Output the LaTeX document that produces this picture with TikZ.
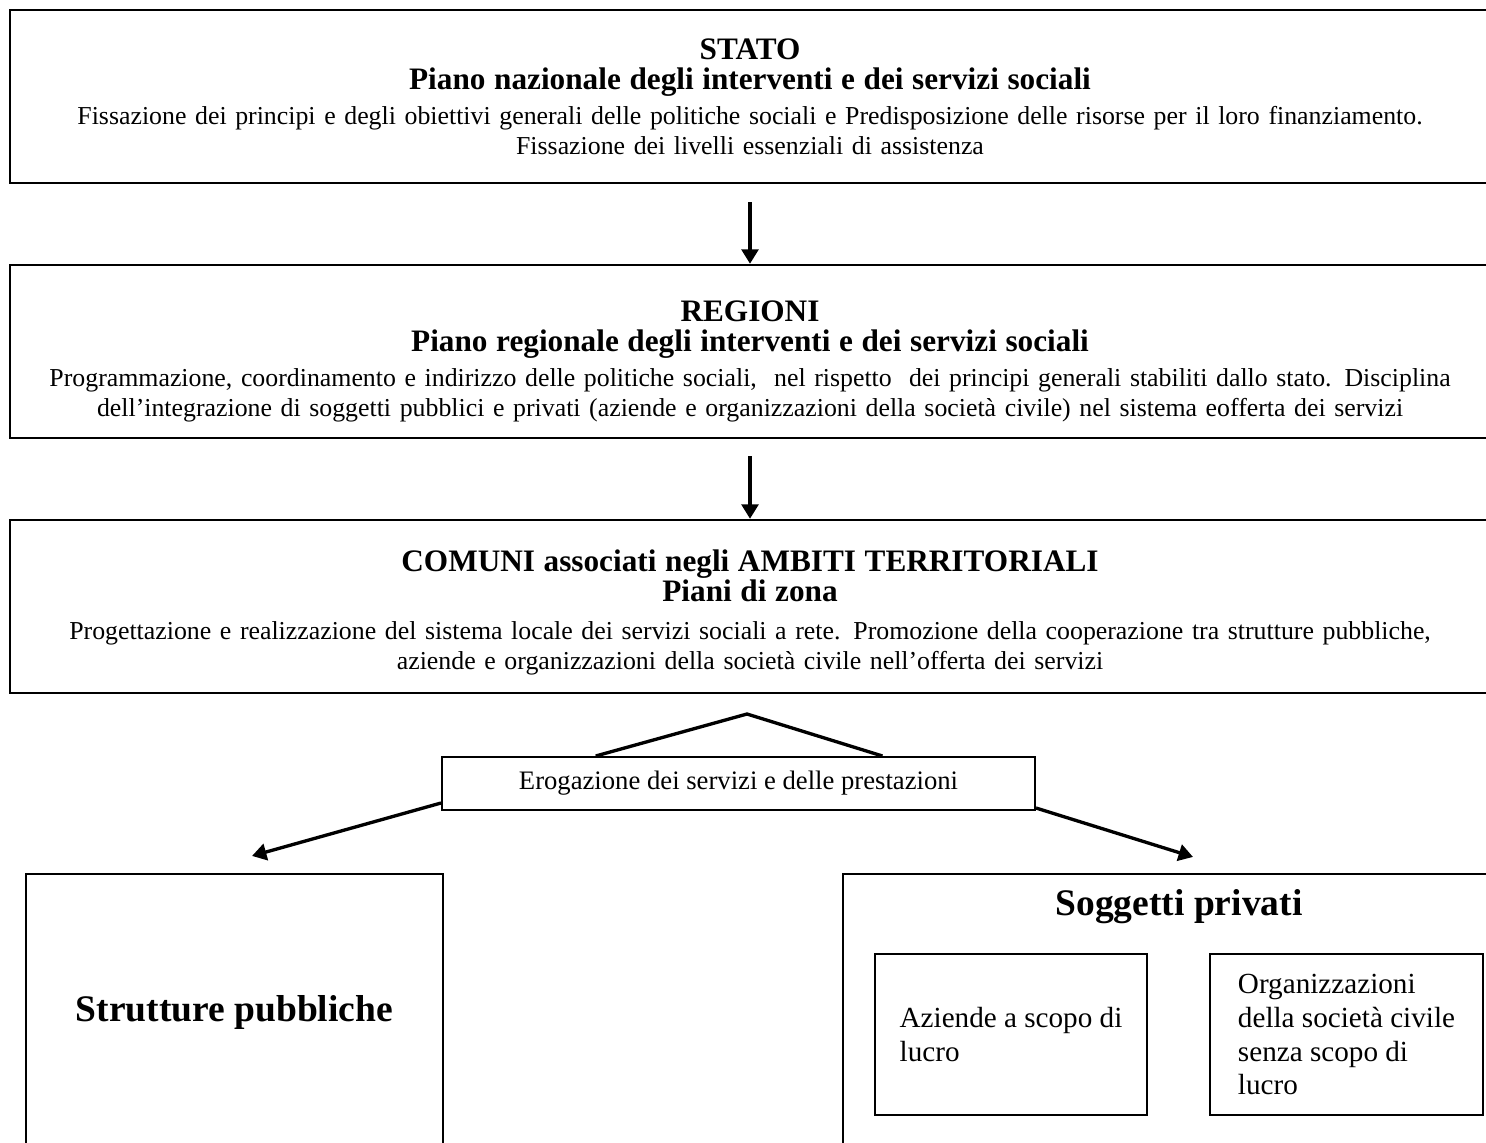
\documentclass[tikz,border=0pt]{standalone}
\usepackage{fontspec}
\setmainfont{Liberation Serif}
\newcommand{\txtbody}{\fontsize{12.4}{14.4}\selectfont}
\newcommand{\txthead}{\fontsize{15}{14.4}\selectfont\bfseries}
\newcommand{\txtbig}{\fontsize{18}{21}\selectfont\bfseries}
\usepackage{tikz}
\usetikzlibrary{calc,positioning,arrows.meta}

\begin{document}
\begin{tikzpicture}[x=0.48pt, y=-0.48pt,
  levelbox/.style={draw, line width=1.2pt, minimum width=710.4pt, minimum height=83pt,
    text width=706pt, align=center, inner sep=1pt, font=\txtbody},
  tagbox/.style={draw, line width=1pt, minimum width=284.6pt, minimum height=25.4pt,
    inner sep=1pt, font=\fontsize{12.8}{15}\selectfont},
  outbox/.style={draw, line width=1pt, minimum height=132.5pt, inner sep=1pt},
  kindbox/.style={draw, line width=1pt, minimum width=130.6pt, minimum height=77.3pt,
    align=left, inner sep=1pt, font=\fontsize{14}{16.3}\selectfont},
  arr/.style={-{Triangle[length=6.9pt, width=8pt]}, line width=1.6pt},
  conn/.style={line width=1.6pt}
]
  \useasboundingbox (0,0) rectangle (1486,1142);
  \clip (0,0) rectangle (1486,1142);

  \node[levelbox] (stato) at (750,96.5) {{\txthead STATO}\\
    {\txthead Piano nazionale degli interventi e dei servizi sociali}\\[2.4pt]
    Fissazione dei principi e degli obiettivi generali delle politiche sociali e Predisposizione delle risorse per il loro finanziamento.\\
    Fissazione dei livelli essenziali di assistenza};
  \node[levelbox] (regioni) at (750,351.5) {\rule{0pt}{19.8pt}{\txthead REGIONI}\\
    {\txthead Piano regionale degli interventi e dei servizi sociali}\\[2.4pt]
    Programmazione, coordinamento e indirizzo delle politiche sociali,\ \ nel rispetto\ \ dei principi generali stabiliti dallo stato. Disciplina\\
    dell’integrazione di soggetti pubblici e privati (aziende e organizzazioni della società civile) nel sistema eofferta dei servizi};
  \node[levelbox] (comuni) at (750,606.5) {\rule{0pt}{16pt}{\txthead COMUNI associati negli AMBITI TERRITORIALI}\\
    {\txthead Piani di zona}\\[3.5pt]
    Progettazione e realizzazione del sistema locale dei servizi sociali a rete. Promozione della cooperazione tra strutture pubbliche,\\
    aziende e organizzazioni della società civile nell’offerta dei servizi};

  \node[tagbox] (erog) at (738.5,783.5) {Erogazione dei servizi e delle prestazioni};
  \coordinate (apex) at (747,714);

  \node[outbox, minimum width=200.2pt, font=\txtbig] (pub) at (234.5,1012) {Strutture pubbliche};
  \node[outbox, minimum width=322.6pt] (priv) at (1179,1012) {};
  \node[font=\txtbig] (privtitle) at (1179,907) {Soggetti privati};
  \node[kindbox] (lucro) at (1011,1034.5) {Aziende a scopo di\\lucro};
  \node[kindbox, minimum width=131pt] (nolucro) at (1346.5,1034.5) {Organizzazioni\\della società civile\\senza scopo di\\lucro};

  \coordinate (pubin) at ($(pub.north)+(17.5,-17)$);
  \coordinate (privin) at ($(priv.north)+(14,-16)$);

  \draw[arr, shorten <=8.6pt] (stato) -- (regioni);
  \draw[arr, shorten <=8.2pt] (regioni) -- (comuni);
  \draw[conn] ($(erog.north west)!0.26!(erog.north east)$) -- (apex)
    -- ($(erog.north west)!0.742!(erog.north east)$);
  \draw[arr] ($(erog.south west)+(0,-8)$) -- (pubin);
  \draw[arr] ($(erog.south east)+(0,-3)$) -- (privin);
\end{tikzpicture}
\end{document}
